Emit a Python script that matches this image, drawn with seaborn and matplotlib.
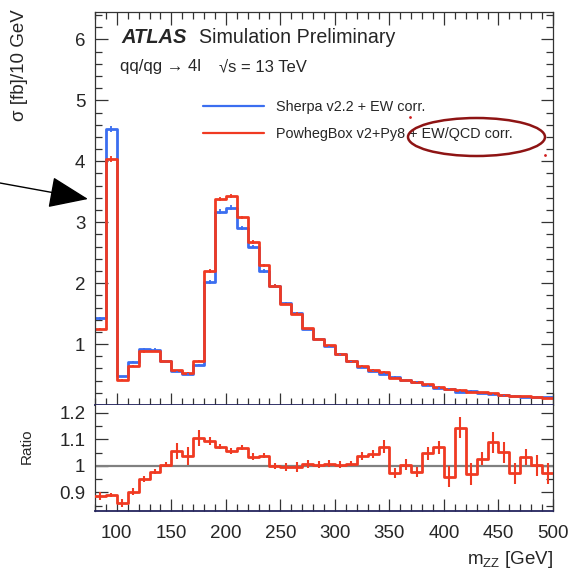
import numpy as np
import matplotlib
matplotlib.use("Agg")
import matplotlib.pyplot as plt
import seaborn as sns
from matplotlib.patches import Ellipse
from matplotlib.ticker import MultipleLocator

# bin edges of m_ZZ (10 GeV bins, 80-500 GeV)
edges = np.arange(80, 510, 10)

# cross section per bin [fb/10 GeV]
sherpa = [1.42, 4.53, 0.47, 0.71, 0.92, 0.91, 0.72, 0.55, 0.51, 0.66,
          2.02, 3.17, 3.24, 2.90, 2.60, 2.20, 1.96, 1.67, 1.51, 1.25,
          1.08, 0.97, 0.83, 0.72, 0.62, 0.56, 0.51, 0.46, 0.41, 0.38,
          0.33, 0.28, 0.27, 0.22, 0.23, 0.20, 0.18, 0.16, 0.155, 0.135,
          0.13, 0.125]
powheg = [1.25, 4.03, 0.41, 0.64, 0.88, 0.89, 0.72, 0.57, 0.53, 0.72,
          2.20, 3.38, 3.43, 3.08, 2.68, 2.29, 1.96, 1.66, 1.50, 1.26,
          1.08, 0.98, 0.84, 0.73, 0.64, 0.58, 0.54, 0.45, 0.41, 0.37,
          0.34, 0.30, 0.26, 0.25, 0.22, 0.21, 0.19, 0.17, 0.15, 0.14,
          0.13, 0.12]
main_err = [0.02, 0.05, 0.01, 0.01, 0.02, 0.02, 0.01, 0.01, 0.01, 0.02,
            0.03, 0.04, 0.04, 0.03, 0.03, 0.03, 0.02, 0.02, 0.02, 0.01,
            0.01, 0.01, 0.01, 0.01, 0.01, 0.01, 0.01, 0.01, 0.01, 0.01,
            0.01, 0.01, 0.01, 0.01, 0.01, 0.01, 0.01, 0.01, 0.01, 0.01,
            0.01, 0.01]

# ratio panel values and uncertainties
ratio = [0.887, 0.891, 0.861, 0.903, 0.951, 0.979, 1.005, 1.058, 1.037, 1.106,
         1.093, 1.073, 1.057, 1.069, 1.035, 1.039, 1.000, 0.996, 0.996, 1.009,
         1.005, 1.009, 1.005, 1.009, 1.037, 1.044, 1.073, 0.973, 1.005, 0.977,
         1.048, 1.071, 0.960, 1.144, 0.970, 1.028, 1.089, 1.051, 0.973, 1.035,
         1.003, 0.973]
ratio_err = [0.015, 0.008, 0.015, 0.012, 0.010, 0.010, 0.010, 0.030, 0.035, 0.030,
             0.015, 0.010, 0.012, 0.010, 0.012, 0.010, 0.010, 0.015, 0.020, 0.015,
             0.012, 0.012, 0.012, 0.010, 0.015, 0.015, 0.025, 0.020, 0.020, 0.020,
             0.025, 0.025, 0.040, 0.040, 0.040, 0.025, 0.040, 0.040, 0.040, 0.030,
             0.040, 0.040]

labels = ["Sherpa v2.2 + EW corr.", "PowhegBox v2+Py8 + EW/QCD corr."]
blue = "#3b6ef0"
red = "#f03a22"
navy = "#24245e"

sns.set_style("ticks")
plt.rcParams['font.family'] = ['Liberation Sans', 'DejaVu Sans']
plt.rcParams['mathtext.fontset'] = 'custom'
plt.rcParams['mathtext.rm'] = 'Liberation Sans'

W, H = 568, 571
fig = plt.figure(figsize=(W / 100, H / 100), dpi=100)
ax1 = fig.add_axes([95 / W, 1 - 405 / H, 458 / W, 393 / H])
ax2 = fig.add_axes([95 / W, 1 - 511 / H, 458 / W, 106 / H])

centers = edges[:-1] + 5

# main panel histograms
sns.lineplot(x=edges, y=sherpa + [sherpa[-1]], drawstyle='steps-post',
             color=blue, lw=2.0, ax=ax1, label=labels[0])
sns.lineplot(x=edges, y=powheg + [powheg[-1]], drawstyle='steps-post',
             color=red, lw=2.0, ax=ax1, label=labels[1])
ax1.errorbar(centers, sherpa, yerr=main_err, fmt='none', ecolor=blue, elinewidth=1.3)
ax1.errorbar(centers, powheg, yerr=main_err, fmt='none', ecolor=red, elinewidth=1.3)

ax1.set_xlim(80, 500)
ax1.set_ylim(0.0, 6.45)
ax1.set_xlabel("")
ax1.set_ylabel("")
ax1.xaxis.set_major_locator(MultipleLocator(50))
ax1.xaxis.set_minor_locator(MultipleLocator(10))
ax1.yaxis.set_major_locator(MultipleLocator(1))
ax1.yaxis.set_minor_locator(MultipleLocator(0.2))
ax1.set_yticks([1, 2, 3, 4, 5, 6])
ax1.tick_params(axis='x', labelbottom=False)

leg = ax1.legend(loc='upper left', bbox_to_anchor=(203 / W, 1 - 100 / H),
                 bbox_transform=fig.transFigure, frameon=False, fontsize=10.4,
                 handlelength=4.2, handletextpad=0.85, labelspacing=0.9,
                 borderpad=0, borderaxespad=0)
for h in leg.get_lines():
    h.set_linewidth(1.6)

# ratio panel
ax2.axhline(1.0, color="#808080", lw=1.6, zorder=1)
sns.lineplot(x=edges, y=ratio + [ratio[-1]], drawstyle='steps-post',
             color=red, lw=2.0, ax=ax2, zorder=3)
ax2.errorbar(centers, ratio, yerr=ratio_err, fmt='none', ecolor=red,
             elinewidth=1.5, zorder=3)
ax2.set_xlim(80, 500)
ax2.set_ylim(0.83, 1.23)
ax2.set_xlabel("")
ax2.set_ylabel("")
ax2.xaxis.set_major_locator(MultipleLocator(50))
ax2.xaxis.set_minor_locator(MultipleLocator(10))
ax2.set_xticks([100, 150, 200, 250, 300, 350, 400, 450, 500])
ax2.set_yticks([0.9, 1.0, 1.1, 1.2])
ax2.set_yticklabels(["0.9", "1", "1.1", "1.2"])
ax2.yaxis.set_minor_locator(MultipleLocator(0.05))

for ax in (ax1, ax2):
    ax.tick_params(which='both', direction='in', right=True, labelsize=13.5,
                   color='#333333')
    ax.tick_params(axis='y', which='both', pad=7)
    ax.tick_params(which='major', length=9, width=0.9)
    ax.tick_params(which='minor', length=5, width=0.9)
    for s in ax.spines.values():
        s.set_linewidth(0.9)
        s.set_color('#333333')
    ax.spines['bottom'].set_color(navy)
    ax.spines['bottom'].set_linewidth(1.3)
ax1.tick_params(which='both', top=True)
ax2.spines['top'].set_visible(False)
ax2.tick_params(axis='x', which='both', top=False, pad=10)

# labels and annotations
fig.text(121 / W, 1 - 43 / H, "ATLAS", fontsize=14.5, fontweight='bold',
         fontstyle='italic', va='baseline')
fig.text(199 / W, 1 - 43 / H, "Simulation Preliminary", fontsize=14.1,
         va='baseline')
fig.text(120 / W, 1 - 71 / H, "qq/qg \u2192 4l", fontsize=12, va='baseline')
fig.text(219 / W, 1 - 71 / H, "\u221as = 13 TeV", fontsize=12, va='baseline')
fig.text(20 / W, 1 - 9 / H, "\u03c3 [fb]/10 GeV", fontsize=13.5, rotation=90,
         ha='center', va='top')
fig.text(27 / W, 1 - 446 / H, "Ratio", fontsize=11, rotation=90,
         ha='center', va='center')
fig.text(553 / W, 1 - 564 / H, r"m$_{\mathregular{ZZ}}$ [GeV]", fontsize=13.5,
         ha='right', va='baseline')

fig.add_artist(Ellipse((476.5 / W, 1 - 137 / H), 137 / W, 38 / H,
                       transform=fig.transFigure, fill=False,
                       edgecolor="#8e1414", lw=1.8))
fig.add_artist(plt.Line2D([410 / W], [1 - 117 / H], marker='.', ms=2,
                          color="#d02020", transform=fig.transFigure))
fig.add_artist(plt.Line2D([545 / W], [1 - 155 / H], marker='.', ms=2,
                          color="#d02020", transform=fig.transFigure))

ax1.annotate("", xy=(88, H - 199), xycoords='figure pixels',
             xytext=(0, H - 183), textcoords='figure pixels',
             arrowprops=dict(arrowstyle="-|>,head_length=1.25,head_width=0.5",
                             mutation_scale=20, color='black', lw=1.0,
                             shrinkA=0, shrinkB=0),
             annotation_clip=False)

fig.savefig("out.png", dpi=100)
